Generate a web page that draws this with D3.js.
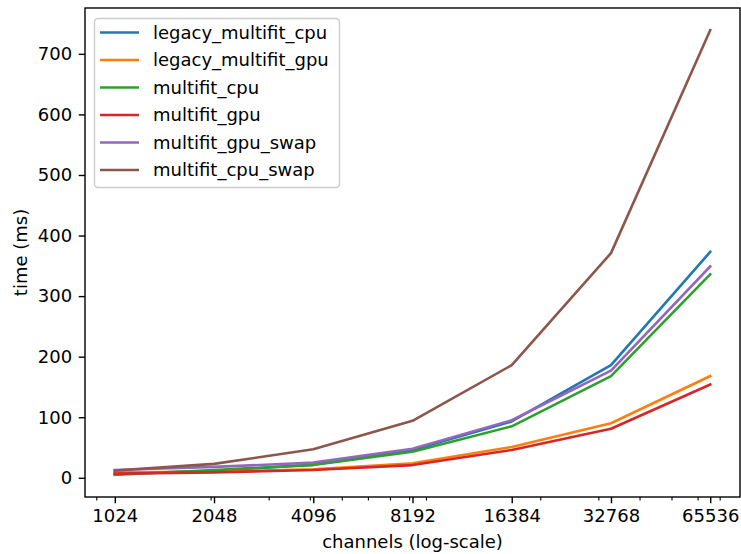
<!DOCTYPE html>
<html>
<head>
<meta charset="utf-8">
<script src="https://cdn.jsdelivr.net/npm/d3@7"></script>
<style>
  body { margin: 0; background: #fff; }
  svg { display: block; font-family: "DejaVu Sans", sans-serif; }
</style>
</head>
<body>
<svg id="chart" width="741" height="554"></svg>
<script>
// data
var channels = [1024, 2048, 4096, 8192, 16384, 32768, 65536];
var seriesNames = ["legacy_multifit_cpu", "legacy_multifit_gpu", "multifit_cpu",
                   "multifit_gpu", "multifit_gpu_swap", "multifit_cpu_swap"];
var legacyMultifitCpu = [7, 11, 22, 46, 93, 186, 373];
var legacyMultifitGpu = [9, 10, 14, 24, 51, 90, 168];
var multifitCpu = [5, 13, 21, 43, 85, 168, 336];
var multifitGpu = [7, 9, 13, 21, 46, 81, 154];
var multifitGpuSwap = [13, 18, 25, 48, 95, 177, 349];
var multifitCpuSwap = [12, 23, 47, 94, 186, 371, 739];
var yTicks = [0, 100, 200, 300, 400, 500, 600, 700];
var xMinorTicks = [900, 2000, 3000, 4000, 5000, 6000, 7000, 8000, 9000,
                   20000, 30000, 40000, 50000, 60000, 70000];
var colors = ["#1f77b4", "#ff7f0e", "#2ca02c", "#d62728", "#9467bd", "#8c564b"];

var allSeries = [legacyMultifitCpu, legacyMultifitGpu, multifitCpu,
                 multifitGpu, multifitGpuSwap, multifitCpuSwap];

var svg = d3.select("#chart");
var axLeft = 85, axRight = 740, axTop = 8, axBottom = 497;
var fs = 18;

// matplotlib-like 5% margins (log2 for x)
var lo = d3.min(channels), hi = d3.max(channels);
var pad = Math.log2(hi / lo) * 0.05;
var x = d3.scaleLog().base(2)
    .domain([lo * Math.pow(2, -pad), hi * Math.pow(2, pad)])
    .range([axLeft, axRight]);

var yMin = d3.min(allSeries, function (s) { return d3.min(s); });
var yMax = d3.max(allSeries, function (s) { return d3.max(s); });
var ySpan = yMax - yMin;
var y = d3.scaleLinear()
    .domain([yMin - 0.05 * ySpan, yMax + 0.05 * ySpan])
    .range([axBottom, axTop]);

// lines
var line = d3.line()
    .x(function (d, i) { return x(channels[i]); })
    .y(function (d) { return y(d); });

var plot = svg.append("g");
plot.append("clipPath").attr("id", "clip")
    .append("rect").attr("x", axLeft).attr("y", axTop)
    .attr("width", axRight - axLeft).attr("height", axBottom - axTop);

plot.selectAll("path.series")
    .data(allSeries)
    .enter().append("path")
    .attr("class", "series")
    .attr("clip-path", "url(#clip)")
    .attr("d", line)
    .attr("fill", "none")
    .attr("stroke", function (d, i) { return colors[i]; })
    .attr("stroke-width", 2.6)
    .attr("stroke-linecap", "square")
    .attr("stroke-linejoin", "round");

// x axis
var xAxis = d3.axisBottom(x)
    .tickValues(channels)
    .tickFormat(d3.format("d"))
    .tickSize(6.3)
    .tickPadding(5.5);
var gx = svg.append("g")
    .attr("transform", "translate(0," + axBottom + ")")
    .call(xAxis);
gx.select(".domain").remove();
gx.selectAll("line").attr("stroke", "#000").attr("stroke-width", 1.4);
gx.selectAll("text").attr("font-size", fs).attr("fill", "#000")
    .attr("font-family", "DejaVu Sans");

var xMinor = d3.axisBottom(x).tickValues(xMinorTicks).tickSize(3.6).tickFormat("");
var gxm = svg.append("g")
    .attr("transform", "translate(0," + axBottom + ")")
    .call(xMinor);
gxm.select(".domain").remove();
gxm.selectAll("line").attr("stroke", "#000").attr("stroke-width", 1.1);

// y axis
var yAxis = d3.axisLeft(y)
    .tickValues(yTicks)
    .tickSize(6.3)
    .tickPadding(6.5);
var gy = svg.append("g")
    .attr("transform", "translate(" + axLeft + ",0)")
    .call(yAxis);
gy.select(".domain").remove();
gy.selectAll("line").attr("stroke", "#000").attr("stroke-width", 1.4);
gy.selectAll("text").attr("font-size", fs).attr("fill", "#000")
    .attr("font-family", "DejaVu Sans");

// frame
svg.append("rect")
    .attr("x", axLeft).attr("y", axTop)
    .attr("width", axRight - axLeft).attr("height", axBottom - axTop)
    .attr("fill", "none").attr("stroke", "#000").attr("stroke-width", 1.4);

// axis labels
svg.append("text")
    .attr("x", (axLeft + axRight) / 2).attr("y", 548)
    .attr("text-anchor", "middle")
    .attr("font-size", fs)
    .text("channels (log-scale)");
svg.append("text")
    .attr("transform", "translate(27," + ((axTop + axBottom) / 2) + ") rotate(-90)")
    .attr("text-anchor", "middle")
    .attr("font-size", fs)
    .text("time (ms)");

// legend
var lg = svg.append("g");
lg.append("rect")
    .attr("x", 94.5).attr("y", 18.5)
    .attr("width", 245).attr("height", 169)
    .attr("rx", 3.5)
    .attr("fill", "#fff").attr("fill-opacity", 0.8)
    .attr("stroke", "#cccccc").attr("stroke-width", 1.4);

var rows = lg.selectAll("g.row")
    .data(seriesNames)
    .enter().append("g")
    .attr("class", "row")
    .attr("transform", function (d, i) { return "translate(0," + (32.5 + i * 27.5) + ")"; });
rows.append("line")
    .attr("x1", 100).attr("x2", 139)
    .attr("stroke", function (d, i) { return colors[i]; })
    .attr("stroke-width", 2.6);
rows.append("text")
    .attr("x", 153)
    .attr("dy", "0.35em")
    .attr("font-size", fs)
    .text(function (d) { return d; });
</script>
</body>
</html>
